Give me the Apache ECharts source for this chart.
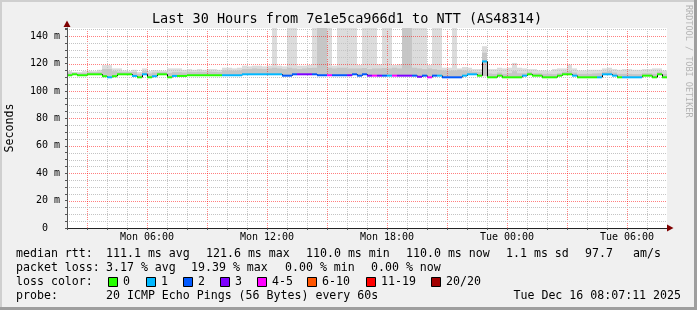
<!DOCTYPE html>
<html><head><meta charset="utf-8">
<script src="https://cdn.jsdelivr.net/npm/echarts@6/dist/echarts.min.js"></script>
<style>html,body{margin:0;padding:0;background:#f0f0f0}#c{width:697px;height:310px}</style>
</head><body><div id="c"></div>
<script>
// ---- data (minutes since Mon 00:00, 15-minute consolidated steps) ----
const stepStart = 120;
const stepMinutes = 15;
const median = [
111.5,112.2,111.5,111.5,112.2,112.2,112.2,110.8,110.0,110.8,
112.2,112.2,112.2,111.0,110.0,112.2,110.0,110.8,112.2,112.2,
110.0,111.0,111.0,111.0,111.5,111.5,111.5,111.5,111.5,111.5,
111.5,111.5,111.5,111.5,111.5,112.2,112.2,112.2,112.2,112.2,
112.2,112.2,112.2,111.2,111.2,112.2,112.2,112.2,112.2,112.2,
111.5,111.5,111.5,111.5,111.5,111.5,111.5,112.2,111.2,112.2,
111.2,111.2,111.2,111.2,111.2,111.2,111.2,111.2,111.2,111.2,
110.4,111.2,110.0,111.2,111.2,110.0,110.0,110.0,110.0,111.2,
112.2,112.2,111.2,121.6,110.0,110.0,111.2,110.0,110.0,110.0,
110.0,111.2,112.2,111.2,111.2,110.0,110.0,110.0,111.2,112.2,
112.2,111.2,110.0,110.0,110.0,110.0,110.0,112.2,112.2,111.2,
110.0,110.0,110.0,110.0,110.0,111.2,111.2,110.0,112.2,110.0];
// lost pings class index: 0=0, 1=1, 2=2, 3=3, 4=4-5, 5=6-10, 6=11-19, 7=20/20
const lossIdx = [
0,0,0,0,0,0,0,0,1,0,
0,0,0,1,0,1,0,1,0,0,
0,1,0,0,0,0,0,0,0,0,
0,1,1,1,1,1,1,1,1,1,
1,1,1,2,2,2,3,3,3,2,
2,2,4,2,2,2,3,2,2,2,
3,4,3,2,1,4,3,3,3,2,
3,2,4,2,1,2,2,2,2,1,
1,1,0,1,0,0,0,0,0,0,
0,1,0,0,0,0,0,0,0,0,
0,1,0,0,0,0,1,1,1,1,
0,1,1,1,1,0,0,0,0,0];
const smokeLo = [
111.5,112.2,111.5,111.5,112.2,112.2,112.2,110.8,110.0,110.8,
112.2,112.2,112.2,111.0,110.0,112.2,110.0,110.8,112.2,112.2,
110.0,111.0,111.0,111.0,111.5,111.5,111.5,111.5,111.5,111.5,
111.5,111.5,111.5,111.5,111.5,112.2,112.2,112.2,112.2,112.2,
112.2,112.2,112.2,111.2,111.2,112.2,112.2,112.2,112.2,112.2,
111.5,111.5,111.5,111.5,111.5,111.5,111.5,112.2,111.2,112.2,
111.2,111.2,111.2,111.2,111.2,111.2,111.2,111.2,111.2,111.2,
110.4,111.2,110.0,111.2,111.2,110.0,110.0,110.0,110.0,111.2,
112.2,112.2,111.2,110.8,110.0,110.0,111.2,110.0,110.0,110.0,
110.0,111.2,112.2,111.2,111.2,110.0,110.0,110.0,111.2,112.2,
112.2,111.2,110.0,110.0,110.0,110.0,110.0,112.2,112.2,111.2,
110.0,110.0,110.0,110.0,110.0,111.2,111.2,110.0,112.2,110.0];
const smokeMid = [
113.5,113.5,113.2,113.2,113.8,113.8,114.0,116.0,116.0,114.5,
114.0,113.8,113.8,113.8,112.5,114.5,112.8,113.5,113.8,113.8,
113.2,113.8,113.8,113.5,114.0,113.8,114.0,113.8,114.2,114.0,
113.8,115.0,115.0,114.8,115.0,116.0,116.0,116.5,116.2,116.0,
116.5,117.0,116.5,116.0,117.0,116.5,116.0,116.5,116.8,117.0,
150,150,117.0,116.5,117.0,117.0,116.5,116.5,116.5,116.8,
116.0,116.5,116.5,116.8,116.5,117.0,116.5,150,150,117.0,
116.5,116.0,116.5,116.0,115.5,115.0,114.8,115.0,115.5,115.0,
114.5,114.0,113.8,128.0,112.8,112.5,113.5,112.5,113.0,114.5,
113.0,113.0,114.0,113.0,113.0,112.5,112.5,112.3,113.0,114.0,
114.5,113.5,112.5,112.5,112.5,112.8,113.0,114.0,114.5,113.5,
112.5,112.5,112.5,112.3,112.3,113.0,113.0,112.5,114.0,112.5];
const smokeHi = [
114.7,113.8,113.8,114.5,114.8,114.5,115.5,118.9,118.9,116.5,
116.5,115.0,114.5,115.5,113.8,116.5,114.5,115.2,115.0,114.8,
116.5,116.5,116.5,115.5,116.0,115.5,116.0,115.5,116.0,116.0,
115.5,117.0,117.0,116.5,117.0,118.5,118.0,118.5,118.5,118.0,
118.5,150,118.5,118.0,150,150,118.5,118.5,119.0,150,
150,150,150,118.5,150,150,150,150,119.0,150,
150,150,119.5,150,150,119.0,119.5,150,150,150,
150,150,119.0,150,150,117.0,117.0,150,116.5,117.5,
117.0,116.0,116.0,132.7,116.0,116.0,117.0,116.5,117.0,120.5,
117.0,116.5,116.0,116.0,115.0,115.0,114.5,116.0,116.5,116.5,
119.3,116.5,115.0,115.0,115.5,115.5,115.5,116.5,117.0,116.0,
115.5,116.0,116.0,115.5,115.5,116.0,116.0,116.5,116.5,115.0];
const lossColors = ['#26ff00','#00b8ff','#0059ff','#7e00ff','#ff00ff','#ff5500','#ff0000','#a10000'];
const lossLabels = ['0','1','2','3','4-5','6-10','11-19','20/20'];
const xMajorTicks = [180,360,540,720,900,1080,1260,1440,1620,1800];
const yMajorTicks = [20,40,60,80,100,120,140];
const title = 'Last 30 Hours from 7e1e5ca966d1 to NTT (AS48314)';
const legendRtt = [['median rtt:',16],['111.1 ms avg',106],['121.6 ms max',206],['110.0 ms min',306],['110.0 ms now',406],['1.1 ms sd',506],['97.7',585],['am/s',633]];
const legendLoss = [['packet loss:',16],['3.17 % avg',106],['19.39 % max',191],['0.00 % min',285],['0.00 % now',371]];
const swatchX = [108,146,183,220,257,307,366,431];
const probeText = '20 ICMP Echo Pings (56 Bytes) every 60s';
const dateText = 'Tue Dec 16 08:07:11 2025';

// ---- chart ----
const X_MIN = 120, X_MAX = 1920, Y_MAX = 146;
const mono = '"DejaVu Sans Mono", monospace';
const chart = echarts.init(document.getElementById('c'), null, {renderer:'canvas'});
const stepX = i => stepStart + i * stepMinutes;
const smokeData = median.map((m, i) => [stepX(i), stepX(i + 1), smokeLo[i], smokeMid[i], smokeHi[i]]);
const medData = median.map((m, i) => [stepX(i), stepX(i + 1), m, lossIdx[i], i > 0 ? median[i - 1] : m]);
// grid line positions: [value, kind] kind 0 = x minor, 1 = x major, 2 = y minor, 3 = y major
const gridLines = [];
for (let v = X_MIN + 60; v < X_MAX; v += 60) gridLines.push([v, xMajorTicks.includes(v) ? 1 : 0]);
for (let v = 5; v < Y_MAX; v += 5) gridLines.push([v, yMajorTicks.includes(v) ? 3 : 2]);

const days = ['Mon', 'Tue'];
function xLabel(v) {
  if (v % 360 !== 0) return '';
  const d = Math.floor(v / 1440), h = (v % 1440) / 60;
  return days[d] + ' ' + String(h).padStart(2, '0') + ':00';
}
function T(x, y, s, size, opt) {
  opt = opt || {};
  return {type:'text', x:x, y:y, rotation: opt.rot || 0, z: 50,
    style:{text:s, font: size + 'px ' + mono, fill: opt.color || '#000', textAlign: opt.align || 'left', textVerticalAlign:'middle'}};
}
const graphics = [
  {type:'rect', shape:{x:0,y:0,width:697,height:2}, style:{fill:'#cfcfcf'}, z:60},
  {type:'rect', shape:{x:0,y:0,width:2,height:310}, style:{fill:'#cfcfcf'}, z:60},
  {type:'rect', shape:{x:0,y:307,width:697,height:3}, style:{fill:'#9e9e9e'}, z:60},
  {type:'rect', shape:{x:694,y:0,width:3,height:310}, style:{fill:'#9e9e9e'}, z:60},
  T(347, 19, title, 13.5, {align:'center'}),
  T(688, 5, 'RRDTOOL / TOBI OETIKER', 8.5, {rot: -Math.PI / 2, color:'#b4b4b4'}),
  T(10, 128, 'Seconds', 11.6, {rot: Math.PI / 2, align:'center'}),
  {type:'polygon', shape:{points:[[67,20.5],[63.5,27],[70.5,27]]}, style:{fill:'#7f0000'}, z:60},
  {type:'polygon', shape:{points:[[673.5,228],[667,224.5],[667,231.5]]}, style:{fill:'#7f0000'}, z:60},
  T(16, 282, 'loss color:', 11.6),
  T(16, 296, 'probe:', 11.6),
  T(106, 296, probeText, 11.6),
  T(681, 296, dateText, 11.6, {align:'right'})
];
legendRtt.forEach(([s, x]) => graphics.push(T(x, 254, s, 11.6)));
legendLoss.forEach(([s, x]) => graphics.push(T(x, 268, s, 11.6)));
lossLabels.forEach((lab, k) => {
  graphics.push({type:'rect', shape:{x:swatchX[k] + 0.5, y:277.5, width:9, height:9}, style:{fill:lossColors[k], stroke:'#000', lineWidth:1}, z:60});
  graphics.push(T(swatchX[k] + 15, 282, lab, 11.6));
});

const option = {
  animation: false,
  backgroundColor: '#f0f0f0',
  grid: {left:67, right:30, top:28, bottom:82, show:true, backgroundColor:'#ffffff', borderWidth:0, containLabel:false, outerBoundsMode:'none'},
  xAxis: [{
    type:'value', min:X_MIN, max:X_MAX, interval:60, z:6,
    axisLine:{show:true, lineStyle:{color:'#222', width:1}},
    axisTick:{show:true, length:2, lineStyle:{color:'#555'}},
    axisLabel:{formatter:xLabel, fontFamily:'DejaVu Sans Mono', fontSize:10, color:'#000', margin:4},
    splitLine:{show:false}
  }],
  yAxis: [{
    type:'value', min:0, max:Y_MAX, interval:5, z:6,
    axisLine:{show:true, lineStyle:{color:'#555', width:1}},
    axisTick:{show:true, length:2, lineStyle:{color:'#555'}},
    axisLabel:{formatter: v => v % 20 !== 0 ? '' : (v === 0 ? '0  ' : v + ' m'), fontFamily:'DejaVu Sans Mono', fontSize:10, color:'#000', margin:7},
    splitLine:{show:false}
  }],
  series: [
    {
      type:'custom', name:'smoke', z:2, clip:true, silent:true,
      data: smokeData,
      renderItem(params, api) {
        const x0 = api.value(0), x1 = api.value(1), lo = api.value(2), mid = api.value(3), hi = api.value(4);
        const a = api.coord([x0, hi]), b = api.coord([x1, lo]), c = api.coord([x0, mid]);
        return {type:'group', children:[
          {type:'rect', shape:{x:a[0], y:a[1], width:b[0]-a[0], height:b[1]-a[1]}, style:{fill:'#dcdcdc'}},
          {type:'rect', shape:{x:a[0], y:c[1], width:b[0]-a[0], height:b[1]-c[1]}, style:{fill:'#c6c6c6'}}
        ]};
      }
    },
    {
      type:'custom', name:'grid', z:4, silent:true, clip:true,
      data: gridLines,
      renderItem(params, api) {
        const v = api.value(0), kind = api.value(1);
        const major = kind === 1 || kind === 3;
        let shape;
        if (kind <= 1) {
          const top = api.coord([v, Y_MAX]), bot = api.coord([v, 0]);
          const x = Math.round(top[0]) + 0.5;
          shape = {x1:x, y1:bot[1], x2:x, y2:top[1]};
        } else {
          const l = api.coord([X_MIN, v]), r = api.coord([X_MAX, v]);
          const y = Math.round(l[1]) + 0.5;
          shape = {x1:l[0], y1:y, x2:r[0], y2:y};
        }
        return {type:'line', shape:shape, style:{stroke: major ? 'rgba(255,0,0,0.5)' : '#c4c4c4', lineWidth:1, lineDash:[1,1]}};
      }
    },
    {
      type:'custom', name:'median', z:5, clip:true, silent:true,
      data: medData,
      renderItem(params, api) {
        const x0 = api.value(0), x1 = api.value(1), m = api.value(2), L = api.value(3), pm = api.value(4);
        const a = api.coord([x0, m]), b = api.coord([x1, m]), p = api.coord([x0, pm]);
        const ch = [];
        if (Math.abs(p[1] - a[1]) > 0.5) ch.push({type:'line', shape:{x1:a[0]+0.5, y1:p[1], x2:a[0]+0.5, y2:a[1]}, style:{stroke:'#000', lineWidth:1}});
        ch.push({type:'line', shape:{x1:a[0], y1:a[1], x2:b[0], y2:b[1]}, style:{stroke:lossColors[L], lineWidth:2}});
        return {type:'group', children:ch};
      }
    }
  ],
  graphic: graphics
};
chart.setOption(option);
</script></body></html>
